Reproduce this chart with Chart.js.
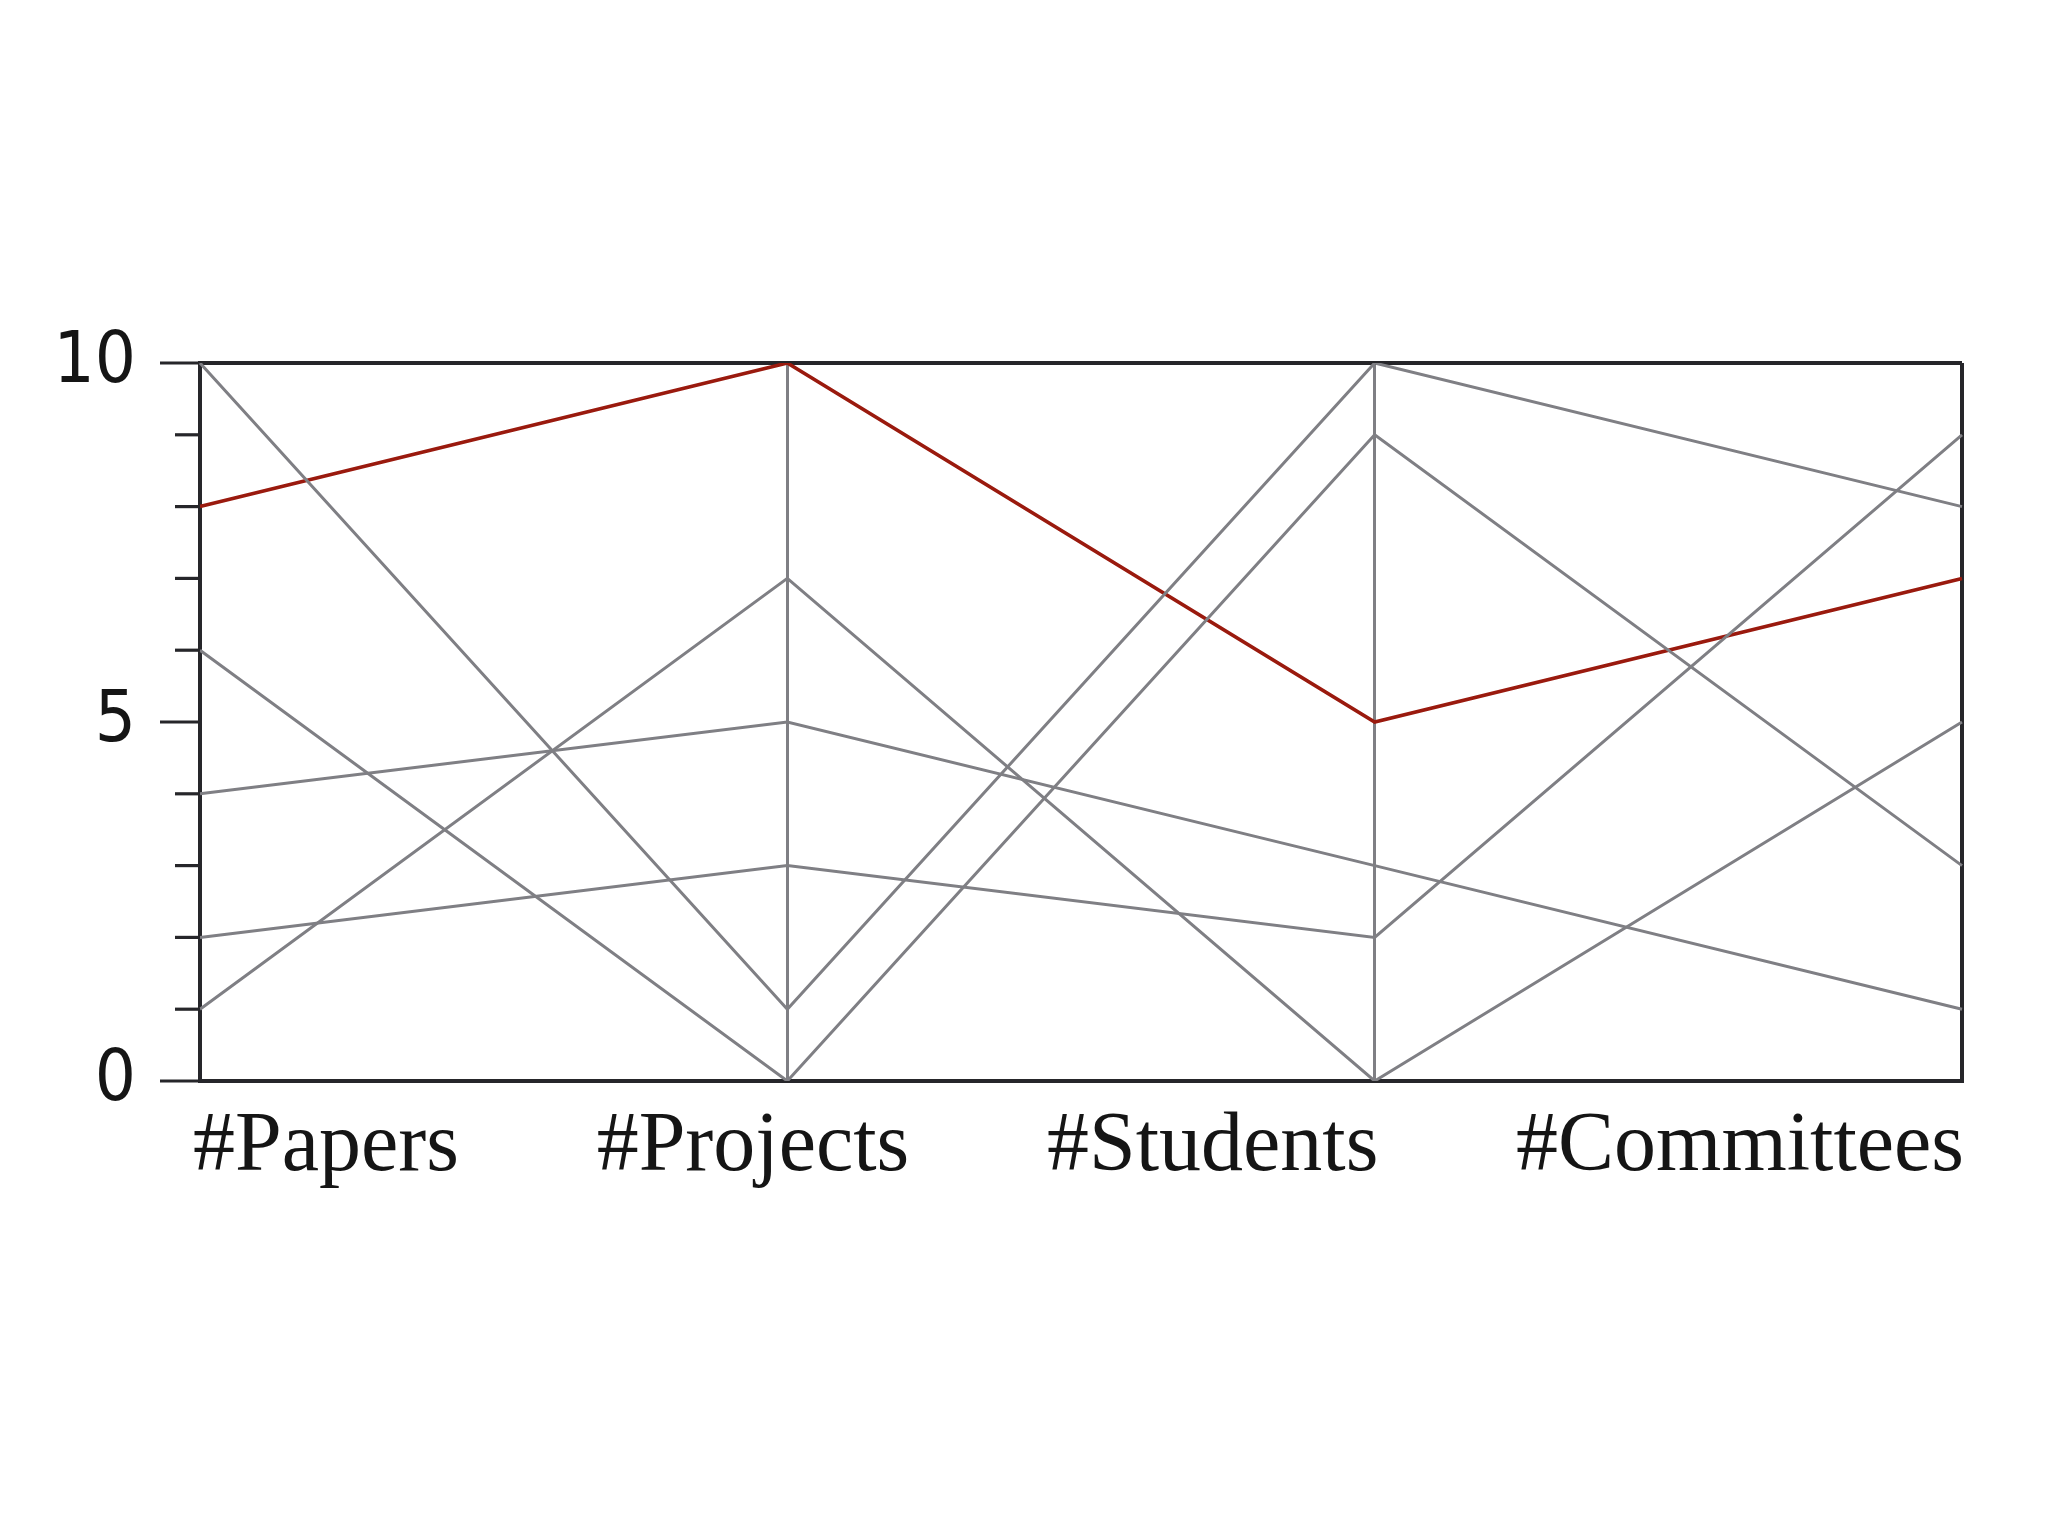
<!DOCTYPE html>
<html>
<head>
<meta charset="utf-8">
<script src="https://cdn.jsdelivr.net/npm/chart.js@4.4.1/dist/chart.umd.min.js"></script>
<style>
  html, body { margin: 0; padding: 0; background: #ffffff; }
  #wrap { width: 2048px; height: 1536px; }
</style>
</head>
<body>
<div id="wrap"><canvas id="c" width="2048" height="1536"></canvas></div>
<script>
// ---- data ----
const categories = ['#Papers', '#Projects', '#Students', '#Committees'];
const line1 = [10, 1, 10, 8];
const line2 = [6, 0, 9, 3];
const line3 = [4, 5, 3, 1];
const line4 = [2, 3, 2, 9];
const line5 = [1, 7, 0, 5];
const highlighted = [8, 10, 5, 7];
const yTickLabels = [0, 5, 10];

const GRAY = '#7f7f84';
const RED = '#9a1a0e';
const DARK = '#26262a';

function grayDs(data) {
  return { data, borderColor: GRAY, borderWidth: 3, pointRadius: 0, tension: 0, fill: false };
}

const minorTicks = {
  id: 'minorTicks',
  afterDraw(chart) {
    const ctx = chart.ctx, y = chart.scales.y, a = chart.chartArea;
    ctx.save();
    ctx.strokeStyle = DARK;
    ctx.lineWidth = 3.2;
    for (let v = 1; v < 10; v++) {
      if (yTickLabels.includes(v)) continue;
      const py = y.getPixelForValue(v);
      ctx.beginPath();
      ctx.moveTo(a.left - 25, py);
      ctx.lineTo(a.left, py);
      ctx.stroke();
    }
    ctx.restore();
  }
};

const justifiedLabels = {
  id: 'justifiedLabels',
  afterDraw(chart) {
    const ctx = chart.ctx, a = chart.chartArea;
    ctx.save();
    ctx.font = '84px "Liberation Serif", "DejaVu Serif", serif';
    ctx.fillStyle = '#151515';
    ctx.textBaseline = 'alphabetic';
    ctx.textAlign = 'left';
    const left = a.left - 7, right = a.right + 2;
    const widths = categories.map(t => ctx.measureText(t).width);
    const total = widths.reduce((s, w) => s + w, 0);
    const gap = (right - left - total) / (categories.length - 1);
    let x = left;
    const baseline = a.bottom + 89;
    categories.forEach((t, i) => {
      ctx.fillText(t, x, baseline);
      x += widths[i] + gap;
    });
    ctx.restore();
  }
};

new Chart(document.getElementById('c'), {
  type: 'line',
  data: {
    labels: categories,
    datasets: [grayDs(line1), grayDs(line2), grayDs(line3), grayDs(line4), grayDs(line5),
      { data: highlighted, borderColor: RED, borderWidth: 3.6, pointRadius: 0, tension: 0, fill: false }]
  },
  options: {
    responsive: false,
    animation: false,
    layout: { padding: { left: 0, right: 86, top: 363, bottom: 455 } },
    plugins: { legend: { display: false }, tooltip: { enabled: false }, title: { display: false } },
    scales: {
      x: {
        type: 'category',
        offset: false,
        afterFit: s => { s.height = 0; },
        ticks: { display: false },
        border: { display: true, color: DARK, width: 4 },
        grid: {
          display: true,
          drawTicks: false,
          color: c => (c.index === 0 || c.index === categories.length - 1) ? DARK : GRAY,
          lineWidth: c => (c.index === 0 || c.index === categories.length - 1) ? 4 : 3
        }
      },
      y: {
        min: 0,
        max: 10,
        afterFit: s => { s.width = 200; },
        ticks: {
          stepSize: 1,
          autoSkip: false,
          padding: 24,
          color: '#151515',
          font: { family: '"Liberation Sans Narrow", "DejaVu Sans Condensed", sans-serif', size: 72 },
          callback: v => yTickLabels.includes(v) ? String(v) : ''
        },
        border: { display: true, color: DARK, width: 4 },
        grid: {
          display: true,
          drawTicks: true,
          tickLength: 40,
          tickWidth: 3.2,
          tickColor: c => (c.tick && yTickLabels.includes(c.tick.value)) ? DARK : 'rgba(0,0,0,0)',
          color: c => (c.tick && (c.tick.value === 0 || c.tick.value === 10)) ? DARK : 'rgba(0,0,0,0)',
          lineWidth: 4
        }
      }
    }
  },
  plugins: [minorTicks, justifiedLabels]
});
</script>
</body>
</html>
